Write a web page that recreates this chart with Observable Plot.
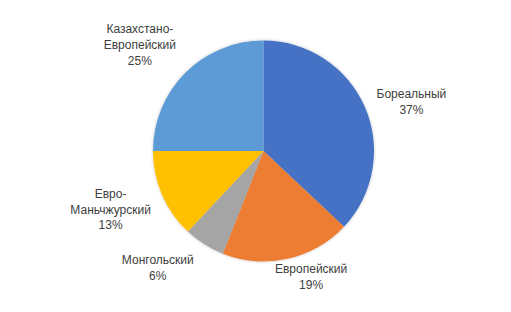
<!DOCTYPE html>
<html>
<head>
<meta charset="utf-8">
<script src="https://cdn.jsdelivr.net/npm/d3@7"></script>
<script src="https://cdn.jsdelivr.net/npm/@observablehq/plot@0.6"></script>
<style>
  html, body { margin: 0; padding: 0; background: #fff; }
</style>
</head>
<body>
<div id="chart"></div>
<script>
// ---- data ----
const regions = ["Бореальный", "Европейский", "Монгольский", "Евро-Маньчжурский", "Казахстано-Европейский"];
const labelLines = ["Бореальный", "Европейский", "Монгольский", "Евро-\nМаньчжурский", "Казахстано-\nЕвропейский"];
const shares = [37, 19, 6, 13, 25];

// ---- styles ----
const colors = ["#4472C4", "#ED7D31", "#A5A5A5", "#FFC000", "#5B9BD5"];
// pixel nudges of each data label from the slice's outer mid-point (label layout)
const labelDx = [46, 23, -47, -52, -46];
const labelDy = [-7, 17, 22, 13, -29];

const rows = regions.map((region, i) => ({region, label: labelLines[i], share: shares[i]}));
const arcs = d3.pie().sort(null).value(d => d.share)(rows);
arcs.forEach(a => { a.mid = (a.startAngle + a.endAngle) / 2; });

const color = Plot.scale({color: {domain: regions, range: colors}});

function pieMark(index, scales, values, dimensions, context) {
  const cx = scales.x(0), cy = scales.y(0);
  const r = Math.abs(scales.x(1) - scales.x(0));
  const arc = d3.arc().innerRadius(0).outerRadius(r);
  const g = d3.create("svg:g");
  const defs = g.append("defs");
  const f = defs.append("filter").attr("id", "pieShadow")
    .attr("x", "-10%").attr("y", "-10%").attr("width", "120%").attr("height", "120%");
  f.append("feDropShadow").attr("dx", 0).attr("dy", 0).attr("stdDeviation", 1.5)
    .attr("flood-color", "#000").attr("flood-opacity", 0.25);
  const pg = g.append("g").attr("transform", `translate(${cx},${cy})`).attr("filter", "url(#pieShadow)");
  pg.selectAll("path").data(arcs).join("path")
    .attr("d", arc)
    .attr("fill", d => color.apply(d.data.region));
  return g.node();
}

const labelMarks = arcs.map((a, i) => Plot.text([a], {
  x: d => Math.sin(d.mid),
  y: d => Math.cos(d.mid),
  text: d => `${d.data.label}\n${d.data.share}%`,
  dx: labelDx[i],
  dy: labelDy[i],
  fill: "#404040",
  lineHeight: 1.333,
  textAnchor: "middle"
}));

const plot = Plot.plot({
  width: 511,
  height: 312,
  margin: 0,
  x: {domain: [-1, 1], range: [153, 374], axis: null},
  y: {domain: [-1, 1], range: [261.5, 40.5], axis: null},
  style: {fontFamily: "'Liberation Sans', Arial, sans-serif", fontSize: "12px", background: "#fff", color: "#404040"},
  marks: [pieMark, ...labelMarks]
});
document.getElementById("chart").appendChild(plot);
</script>
</body>
</html>
